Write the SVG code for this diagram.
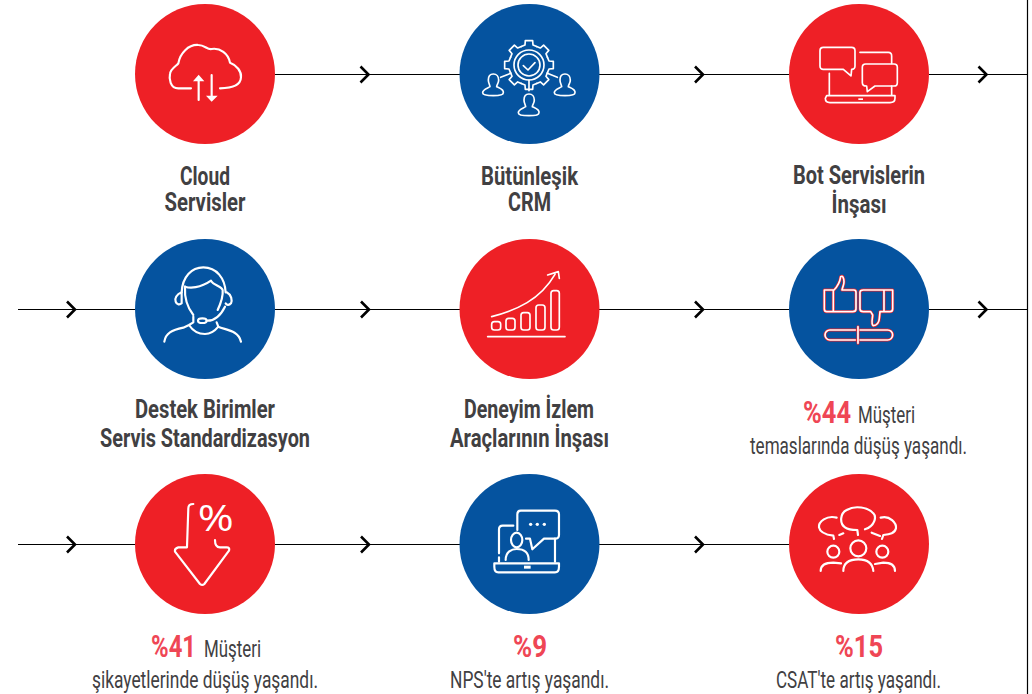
<svg xmlns="http://www.w3.org/2000/svg" xmlns:xlink="http://www.w3.org/1999/xlink" width="1032" height="694" viewBox="0 0 1032 694">
<style>
.r{fill:#ee2026}.b{fill:#05539f}
.i{fill:none;stroke:#fff;stroke-width:6.500;stroke-linecap:round;stroke-linejoin:round}
.t{stroke-width:5}
.f{fill:#fff;stroke:none}
.l{stroke:#000;stroke-width:1.2;fill:none}
.c{stroke:#000;stroke-width:2.6;fill:none}
text{font-family:Roboto,"Liberation Sans",sans-serif;fill:#414042}
.h{font-weight:700;font-size:26px}
.n{font-size:23px}
.p{font-weight:700;font-size:31px;fill:#ef4655}
.ru{fill:none;stroke:#ee2026;stroke-width:9;stroke-linejoin:round;stroke-linecap:round}
.wu{fill:none;stroke:#fff;stroke-width:5;stroke-linejoin:round;stroke-linecap:round}
</style>
<defs>
<path id="chev" d="M-4,-8 L4,0 L-4,8"/>
<path id="tooth" d="M-23,-55.4 L-12,-60 L-11,-73 H11 L12,-60 L23,-55.4"/>
<path id="person" d="M-15,18 C-15,6 -8,0 0,0 C10,0 16,8 16,18 C16,28 10,33 10,38 C20,43 32,46 30,56 C30,63 20,65 0,65 C-20,65 -32,63 -32,56 C-32,46 -18,43 -10,38 C-10,33 -15,28 -15,18Z"/>
</defs>
<g id="connectors">
<path class="l" d="M275,74.500H460M599,74.500H789M929,74.500H1028M18,309.500H135M275,309.500H460M599,309.500H789M929,309.500H1028M18,544.500H135M275,544.500H460M599,544.500H789"/>
<path class="l" d="M1027.500,0V694"/>
<g class="c">
<use href="#chev" x="364.500" y="74.500"/><use href="#chev" x="699" y="74.500"/><use href="#chev" x="982.500" y="74.500"/>
<use href="#chev" x="71" y="309.500"/><use href="#chev" x="365" y="309.500"/><use href="#chev" x="699" y="309.500"/><use href="#chev" x="982.500" y="309.500"/>
<use href="#chev" x="71" y="544.500"/><use href="#chev" x="365" y="544.500"/><use href="#chev" x="699" y="544.500"/>
</g>
</g>
<g id="node-cloud">
<circle class="r" cx="205" cy="74" r="70"/>
<g transform="translate(120,0) scale(.3333)">
<path class="i" d="M213,265H175C150,265 147,235 150,222C152,205 170,198 175,190C180,160 205,133 235,135C255,135 262,150 275,147C300,143 325,160 330,188C350,195 365,215 363,232C362,255 340,265 300,265"/>
<path class="i" d="M236,300V235M275,225V290"/>
<path class="f" d="M219,244L236,224L253,244ZM258,287L275,305L293,287Z"/>
</g>
<text class="h" x="205" y="185" text-anchor="middle" textLength="50" lengthAdjust="spacingAndGlyphs">Cloud</text>
<text class="h" x="205" y="211" text-anchor="middle" textLength="81" lengthAdjust="spacingAndGlyphs">Servisler</text>
</g>
<g id="node-crm">
<circle class="b" cx="529.500" cy="74" r="70"/>
<g transform="translate(450,0) scale(.3333)">
<g class="i t" transform="translate(237,195)">
<use href="#tooth"/><use href="#tooth" transform="rotate(45)"/><use href="#tooth" transform="rotate(90)"/><use href="#tooth" transform="rotate(135)"/><use href="#tooth" transform="rotate(180)"/><use href="#tooth" transform="rotate(225)"/><use href="#tooth" transform="rotate(270)"/><use href="#tooth" transform="rotate(315)"/>
<circle r="45"/><circle r="33"/>
<path d="M-17,2L-3,15L18,-7"/>
</g>
<path class="i t" d="M237,240V272M152,232L182,220M292,220L322,232"/>
<g class="i t"><use href="#person" x="130" y="222"/><use href="#person" x="345" y="222"/><use href="#person" x="237" y="282"/></g>
</g>
<text class="h" x="529.500" y="185" text-anchor="middle" textLength="97" lengthAdjust="spacingAndGlyphs">Bütünleşik</text>
<text class="h" x="529.500" y="211" text-anchor="middle" textLength="43" lengthAdjust="spacingAndGlyphs">CRM</text>
</g>
<g id="node-bot">
<circle class="r" cx="859" cy="74" r="70"/>
<g transform="translate(780,0) scale(.3333)">
<path class="i t" d="M130,142H215Q225,142 225,152V198Q225,208 215,208L213,228L190,208H130Q120,208 120,198V152Q120,142 130,142Z"/>
<path class="i t" d="M257,192H342Q352,192 352,202V248Q352,258 342,258H285L262,275L260,258Q247,258 247,248V202Q247,192 257,192Z"/>
<path class="i t" d="M148,220V285M240,157H325Q335,157 335,168V190M335,258V285"/>
<path class="i t" d="M140,287H345V295Q345,308 330,308H150Q136,308 136,295Z"/>
<rect class="f" x="235" y="295" width="14" height="5"/>
</g>
<text class="h" x="859" y="184" text-anchor="middle" textLength="132" lengthAdjust="spacingAndGlyphs">Bot Servislerin</text>
<text class="h" x="859" y="213" text-anchor="middle" textLength="55" lengthAdjust="spacingAndGlyphs">İnşası</text>
</g>
<g id="node-destek">
<circle class="b" cx="205" cy="309" r="70"/>
<g transform="translate(125,235) scale(.3333)">
<path class="i" d="M170,172C172,125 200,97 235,97C275,97 300,130 302,172"/>
<path class="i" d="M170,172C155,178 148,190 152,200C155,210 165,210 170,205ZM305,172C320,180 322,195 318,205C312,212 305,210 302,205"/>
<path class="i" d="M180,155C195,160 225,160 258,137C265,150 290,155 293,165C295,185 285,210 278,225"/>
<path class="i" d="M180,155C178,190 185,215 205,240"/>
<ellipse class="i" cx="232" cy="257" rx="13" ry="7"/>
<path class="i" d="M245,257C265,258 285,245 300,215"/>
<path class="i" d="M205,245V262L192,270C205,290 222,297 240,297C258,297 272,285 280,275L275,262M192,270L175,278C140,285 122,295 118,320M280,275C300,285 340,285 348,320"/>
</g>
<text class="h" x="205" y="418" text-anchor="middle" textLength="140" lengthAdjust="spacingAndGlyphs">Destek Birimler</text>
<text class="h" x="205" y="447" text-anchor="middle" textLength="210" lengthAdjust="spacingAndGlyphs">Servis Standardizasyon</text>
</g>
<g id="node-deneyim">
<circle class="r" cx="529.500" cy="309" r="70"/>
<g transform="translate(450,235) scale(.3333)">
<path class="i t" d="M125,245C200,225 270,195 315,118M293,120L325,110L328,130"/>
<rect class="i t" x="125" y="260" width="27" height="25" rx="8"/>
<rect class="i t" x="168" y="250" width="27" height="35" rx="8"/>
<rect class="i t" x="213" y="233" width="27" height="52" rx="8"/>
<rect class="i t" x="258" y="210" width="27" height="75" rx="8"/>
<rect class="i t" x="303" y="167" width="25" height="118" rx="8"/>
<path class="i t" d="M113,305H345"/>
</g>
<text class="h" x="529" y="418" text-anchor="middle" textLength="130" lengthAdjust="spacingAndGlyphs">Deneyim İzlem</text>
<text class="h" x="529.500" y="447" text-anchor="middle" textLength="159" lengthAdjust="spacingAndGlyphs">Araçlarının İnşası</text>
</g>
<g id="node-temas">
<circle class="b" cx="859" cy="309" r="70"/>
<g transform="translate(780,235) scale(.3333)">
<g class="ru">
<path id="thumbs" d="M133,165H162C172,155 180,140 182,125C188,120 192,130 192,140C192,150 188,155 186,165H222Q228,165 228,172V222Q228,230 218,230H140Q133,230 133,222ZM160,165V230M338,165V222Q338,230 330,230H300L298,250C298,262 290,272 280,272C272,268 278,250 278,240L272,230H250Q240,230 240,222V172Q240,165 250,165ZM312,165V230M226,285H150A15,15 0 0 0 150,315H226M240,285H323A15,15 0 0 1 323,315H240M234,275V325"/>
</g>
<use href="#thumbs" class="wu"/>
</g>
<text class="p" x="803" y="423" textLength="48" lengthAdjust="spacingAndGlyphs">%44</text>
<text class="n" x="858" y="423" textLength="57" lengthAdjust="spacingAndGlyphs">Müşteri</text>
<text class="n" x="858.500" y="454" text-anchor="middle" textLength="217" lengthAdjust="spacingAndGlyphs">temaslarında düşüş yaşandı.</text>
</g>
<g id="node-sikayet">
<circle class="r" cx="205" cy="544" r="70"/>
<g transform="translate(125,470) scale(.3333)">
<path class="i" d="M205,102Q190,102 190,115L186,232H160Q148,235 150,245L225,342Q232,348 238,342L312,242Q315,232 305,232H285Q270,232 270,210"/>
<text x="218" y="183" font-size="108" style="fill:#fff;font-family:'Open Sans',sans-serif" textLength="108" lengthAdjust="spacingAndGlyphs">%</text>
</g>
<text class="p" x="151" y="657" textLength="45" lengthAdjust="spacingAndGlyphs">%41</text>
<text class="n" x="204" y="657" textLength="57" lengthAdjust="spacingAndGlyphs">Müşteri</text>
<text class="n" x="205" y="688" text-anchor="middle" textLength="226" lengthAdjust="spacingAndGlyphs">şikayetlerinde düşüş yaşandı.</text>
</g>
<g id="node-nps">
<circle class="b" cx="529.500" cy="544" r="70"/>
<g transform="translate(450,470) scale(.3333)">
<path class="i" d="M202,180V133Q202,122 212,122H315Q327,122 327,133V195Q327,206 315,206H282L247,238L240,206H228"/>
<path class="i" d="M190,167H158Q147,167 147,178V250M147,262V275M315,206V275"/>
<path class="i" d="M133,280H327V290Q327,307 315,307H145Q133,307 133,290Z"/>
<rect class="f" x="222" y="287" width="20" height="9"/>
<ellipse class="i" cx="200" cy="210" rx="17" ry="22"/>
<path class="i" d="M167,270C167,245 185,237 200,237C220,237 236,245 236,270"/>
<circle class="f" cx="242" cy="163" r="5"/><circle class="f" cx="262" cy="163" r="5"/><circle class="f" cx="283" cy="163" r="5"/>
</g>
<text class="p" x="530" y="657" text-anchor="middle" textLength="34" lengthAdjust="spacingAndGlyphs">%9</text>
<text class="n" x="529.500" y="688" text-anchor="middle" textLength="159" lengthAdjust="spacingAndGlyphs">NPS'te artış yaşandı.</text>
</g>
<g id="node-csat">
<circle class="r" cx="859" cy="544" r="70"/>
<g transform="translate(780,470) scale(.3333)">
<path class="i" d="M255,178C285,168 290,140 280,130C265,112 225,105 200,120C180,130 178,160 195,172C205,180 225,180 232,180L234,195"/>
<path class="i" d="M170,143C140,135 115,155 117,172C120,188 145,195 160,197L162,207M178,195L190,190"/>
<path class="i" d="M302,143C330,135 350,160 348,175C345,190 330,193 310,195L306,207M275,188L300,198"/>
<circle class="i" cx="160" cy="245" r="18"/><circle class="i" cx="235" cy="235" r="24"/><circle class="i" cx="307" cy="245" r="18"/>
<path class="i" d="M190,303C190,280 205,268 235,268C262,268 278,280 280,303M122,303C122,285 135,278 160,278L183,280M285,282L310,278C330,278 345,285 345,303"/>
</g>
<text class="p" x="859" y="657" text-anchor="middle" textLength="48" lengthAdjust="spacingAndGlyphs">%15</text>
<text class="n" x="858.500" y="688" text-anchor="middle" textLength="165" lengthAdjust="spacingAndGlyphs">CSAT'te artış yaşandı.</text>
</g>
</svg>
